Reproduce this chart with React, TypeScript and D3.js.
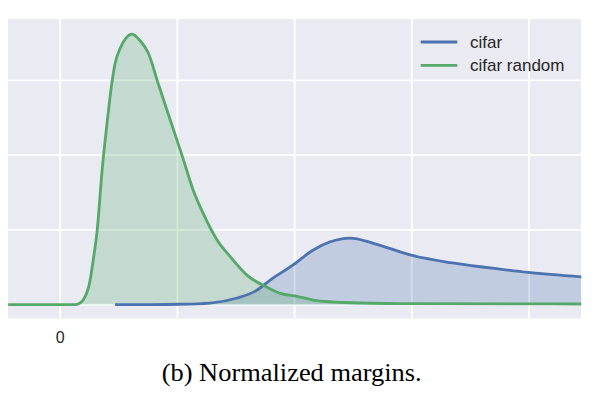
import { useEffect } from "react";
import * as d3 from "d3";

// grid ticks (only the 0 is labelled in the original)
const xTicks = [0, 1, 2, 3, 4];
const xTickLabels = ["0", "", "", "", ""];
const yTicks = [0, 1, 2, 3];

// cifar (blue) density
const cifarX = [0.469, 0.768, 1.024, 1.28, 1.51, 1.681, 1.792, 1.988, 2.159, 2.304, 2.474, 2.671, 2.995, 3.328, 3.669, 3.993, 4.445];
const cifarY = [0, 0, 0.004, 0.02, 0.087, 0.194, 0.328, 0.53, 0.73, 0.84, 0.89, 0.82, 0.66, 0.56, 0.49, 0.43, 0.37];

// cifar random (green) density
const randomX = [-0.444, 0.128, 0.171, 0.196, 0.256, 0.282, 0.316, 0.358, 0.401, 0.444, 0.469, 0.512, 0.563, 0.612, 0.683, 0.751, 0.836, 0.939, 1.041, 1.135, 1.22, 1.34, 1.451, 1.596, 1.766, 1.877, 2.022, 2.159, 2.474, 2.901, 4.445];
const randomY = [0, 0, 0.023, 0.06, 0.328, 0.596, 0.997, 1.8, 2.44, 3.0, 3.23, 3.43, 3.57, 3.62, 3.53, 3.37, 2.96, 2.47, 1.99, 1.53, 1.22, 0.86, 0.64, 0.39, 0.23, 0.15, 0.11, 0.06, 0.024, 0.013, 0.007];

const seriesNames = ["cifar", "cifar random"];
const colors = ["#4C72B0", "#55A868"];

export default function App() {
  useEffect(() => {
    document.body.style.margin = "0";
  }, []);

  const left = 8, right = 581, top = 19, bottom = 318.5;

  const x = d3.scaleLinear().domain([-0.445, 4.443]).range([left, right]);
  const y = d3.scaleLinear().domain([-0.187, 3.822]).range([bottom, top]);

  const series = [
    d3.zip(cifarX, cifarY) as [number, number][],
    d3.zip(randomX, randomY) as [number, number][],
  ];

  const line = d3.line<[number, number]>()
    .x(d => x(d[0]))
    .y(d => y(d[1]))
    .curve(d3.curveMonotoneX);

  const area = d3.area<[number, number]>()
    .x(d => x(d[0]))
    .y0(y(0))
    .y1(d => y(d[1]))
    .curve(d3.curveMonotoneX);

  return (
    <svg width={596} height={404} style={{ display: "block", background: "#fff" }}>
      <rect x={left} y={top} width={right - left} height={bottom - top} fill="#EAEAF2" />

      {/* grid */}
      {xTicks.map(t => (
        <line key={"gx" + t} x1={x(t)} x2={x(t)} y1={top} y2={bottom} stroke="#fff" strokeWidth={1.8} />
      ))}
      {yTicks.map(t => (
        <line key={"gy" + t} x1={left} x2={right} y1={y(t)} y2={y(t)} stroke="#fff" strokeWidth={1.8} />
      ))}

      {/* fills under both lines */}
      {series.map((s, i) => (
        <path key={"a" + i} d={area(s) || ""} fill={colors[i]} fillOpacity={0.25} />
      ))}
      {series.map((s, i) => (
        <path key={"l" + i} d={line(s) || ""} fill="none" stroke={colors[i]} strokeWidth={2.8} strokeLinejoin="round" />
      ))}

      {/* tick labels */}
      {xTicks.map((t, i) => (
        <text key={"tx" + t} x={x(t)} y={343} textAnchor="middle"
          fontFamily="'Liberation Sans', Arial, sans-serif" fontSize={16} fill="#262626">
          {xTickLabels[i]}
        </text>
      ))}

      {/* legend */}
      {seriesNames.map((name, i) => (
        <g key={"lg" + i} transform={`translate(0, ${42 + i * 23.3})`}>
          <line x1={420.7} x2={457.3} y1={0} y2={0} stroke={colors[i]} strokeWidth={2.8} />
          <text x={470} y={6} fontFamily="'Liberation Sans', Arial, sans-serif" fontSize={17} fill="#262626">
            {name}
          </text>
        </g>
      ))}

      {/* caption */}
      <text x={291.7} y={381} textAnchor="middle" fontFamily="'Liberation Serif', 'DejaVu Serif', serif"
        fontSize={25} textLength={260} lengthAdjust="spacingAndGlyphs" fill="#000">
        (b) Normalized margins.
      </text>
    </svg>
  );
}
